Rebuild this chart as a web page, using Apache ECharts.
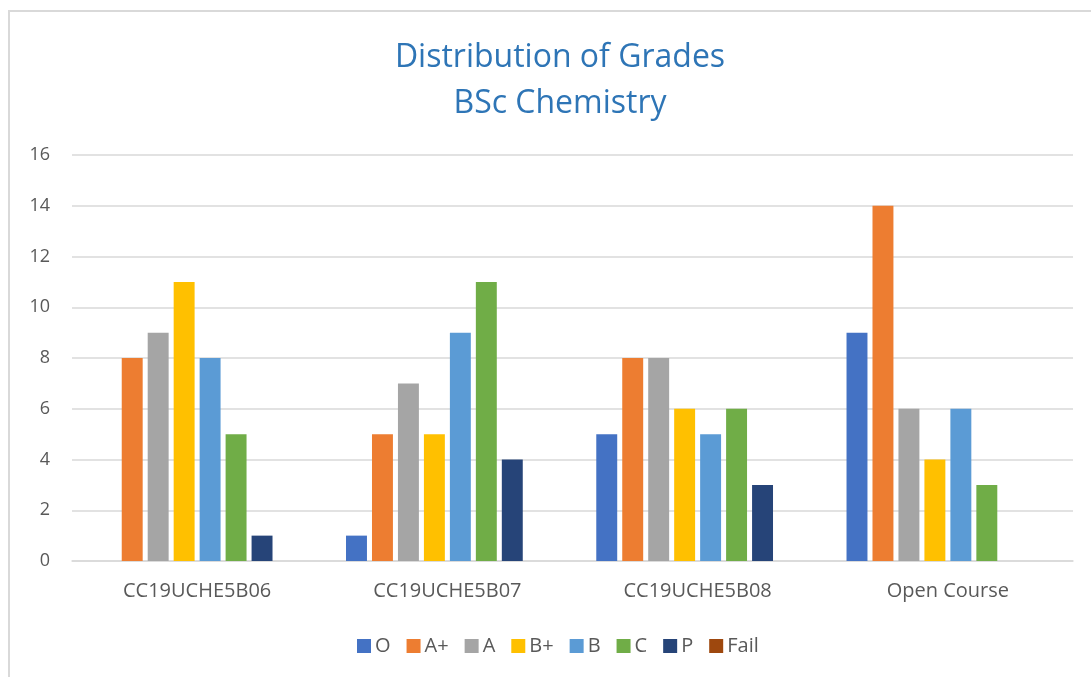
<!DOCTYPE html>
<html>
<head>
<meta charset="utf-8">
<title>Distribution of Grades</title>
<script src="https://cdn.jsdelivr.net/npm/echarts@6/dist/echarts.min.js"></script>
<style>
  html, body { margin: 0; padding: 0; background: #fff; }
  #frame {
    position: absolute; left: 8px; top: 10px; width: 1100px; height: 700px;
    border-left: 2px solid #d9d9d9; border-top: 2px solid #d9d9d9;
  }
  #chart { position: absolute; left: 0; top: 0; width: 1091px; height: 677px; }
</style>
</head>
<body>
<div id="frame"></div>
<div id="chart"></div>
<script>
// courses along the x axis
var courses = ['CC19UCHE5B06', 'CC19UCHE5B07', 'CC19UCHE5B08', 'Open Course'];

// count of students per grade, one value per course
var gradeO     = [0, 1, 5, 9];
var gradeAplus = [8, 5, 8, 14];
var gradeA     = [9, 7, 8, 6];
var gradeBplus = [11, 5, 6, 4];
var gradeB     = [8, 9, 5, 6];
var gradeC     = [5, 11, 6, 3];
var gradeP     = [1, 4, 3, 0];
var gradeFail  = [0, 0, 0, 0];

var gradeNames = ['O', 'A+', 'A', 'B+', 'B', 'C', 'P', 'Fail'];
var gradeColors = ['#4472C4', '#ED7D31', '#A5A5A5', '#FFC000', '#5B9BD5', '#70AD47', '#264478', '#9E480E'];
var gradeData = [gradeO, gradeAplus, gradeA, gradeBplus, gradeB, gradeC, gradeP, gradeFail];

var font = 'Open Sans';

let chart = echarts.init(document.getElementById('chart'));

let series = gradeNames.map(function (name, i) {
  return {
    name: name,
    type: 'bar',
    data: gradeData[i],
    barGap: '24%',
    barCategoryGap: '19%',
    itemStyle: { color: gradeColors[i] },
    emphasis: { disabled: true }
  };
});

chart.setOption({
  animation: false,
  color: gradeColors,
  title: {
    text: 'Distribution of Grades\nBSc Chemistry',
    left: 555,
    textAlign: 'center',
    top: 30,
    textStyle: {
      color: '#2E75B6',
      fontFamily: font,
      fontWeight: 'normal',
      fontSize: 32,
      lineHeight: 46
    }
  },
  legend: {
    bottom: 16,
    left: 352,
    itemWidth: 14,
    itemHeight: 14,
    itemGap: 16,
    icon: 'rect',
    textStyle: { color: '#595959', fontFamily: font, fontSize: 20, padding: [0, 0, 0, -1] }
  },
  grid: { left: 72, right: 18, top: 155, bottom: 116, containLabel: false },
  xAxis: {
    type: 'category',
    data: courses,
    axisLine: { lineStyle: { color: '#d9d9d9', width: 1.5 } },
    axisTick: { show: false },
    axisLabel: { color: '#595959', fontFamily: font, fontSize: 20, margin: 20 }
  },
  yAxis: {
    type: 'value',
    min: 0,
    max: 16,
    interval: 2,
    axisLine: { show: false },
    axisTick: { show: false },
    splitLine: { lineStyle: { color: '#d9d9d9', width: 1.5 } },
    axisLabel: { color: '#595959', fontFamily: font, fontSize: 18, margin: 22 }
  },
  series: series
});
</script>
</body>
</html>
